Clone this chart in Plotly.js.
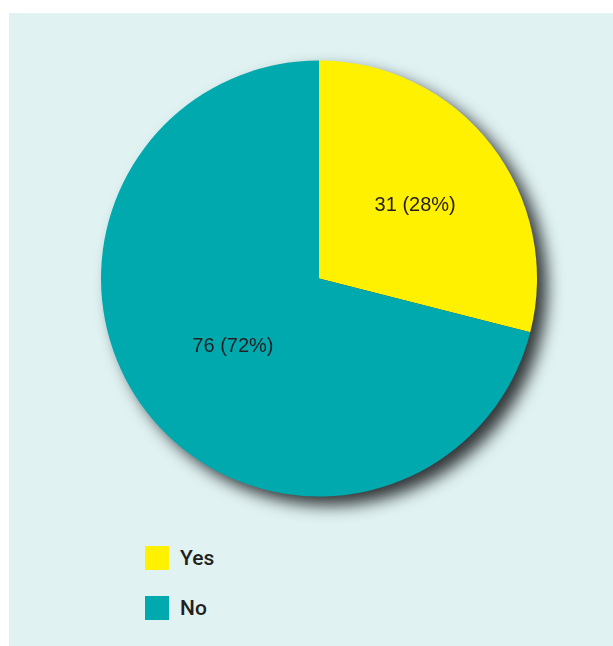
<!DOCTYPE html>
<html>
<head>
<meta charset="utf-8">
<script src="https://cdn.plot.ly/plotly-3.0.1.min.js"></script>
<style>
  html, body { margin: 0; padding: 0; background: #ffffff; }
  #chart { position: absolute; left: 9px; top: 13px; width: 604px; height: 633px; }
  #chart .pielayer { filter: drop-shadow(10px 9px 8px rgba(40,44,46,0.95)); }
</style>
</head>
<body>
<div id="chart"></div>
<script>
// Data
const categories = ["Yes", "No"];
const counts = [31, 76];
const percentLabels = [28, 72];
const sliceColors = ["#FFF100", "#00A9AD"];

const sliceText = categories.map((c, i) => counts[i] + " (" + percentLabels[i] + "%)");

const W = 604, H = 633;
const trace = {
  type: "pie",
  labels: categories,
  values: counts,
  text: sliceText,
  textinfo: "text",
  textposition: "inside",
  insidetextorientation: "horizontal",
  sort: false,
  direction: "clockwise",
  rotation: 0,
  marker: { colors: sliceColors, line: { width: 0 } },
  textfont: { family: "Liberation Sans, Arial, sans-serif", size: 20, color: "#231F20" },
  hoverinfo: "skip",
  showlegend: false,
  domain: { x: [92 / W, 528 / W], y: [149.5 / H, 585.5 / H] }
};

// Manual legend (large square swatches)
const shapes = [];
const annotations = [];
const legendX0 = 136, legendY0 = 533, sw = 24, gap = 50;
categories.forEach((c, i) => {
  const y0 = legendY0 + i * gap;
  shapes.push({
    type: "rect", xref: "paper", yref: "paper",
    x0: legendX0 / W, x1: (legendX0 + sw) / W,
    y0: 1 - (y0 + sw) / H, y1: 1 - y0 / H,
    fillcolor: sliceColors[i], line: { width: 0 }
  });
  annotations.push({
    xref: "paper", yref: "paper",
    x: (legendX0 + sw + 9) / W, y: 1 - (y0 + sw / 2) / H,
    xanchor: "left", yanchor: "middle",
    text: c, showarrow: false,
    font: { family: "Roboto, Liberation Sans, sans-serif", size: 21, weight: 500, color: "#231F20" }
  });
});

const layout = {
  width: W, height: H,
  margin: { l: 0, r: 0, t: 0, b: 0 },
  paper_bgcolor: "#E0F2F2",
  plot_bgcolor: "#E0F2F2",
  showlegend: false,
  shapes: shapes,
  annotations: annotations,
  hovermode: false
};

Plotly.newPlot("chart", [trace], layout, { displayModeBar: false, staticPlot: true });
</script>
</body>
</html>
